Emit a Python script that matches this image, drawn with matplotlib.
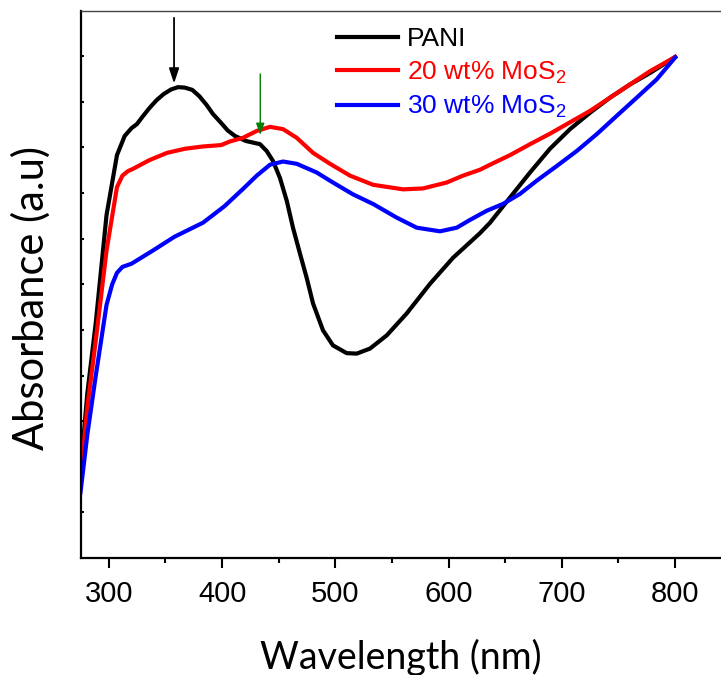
import matplotlib
matplotlib.use("Agg")
import matplotlib.pyplot as plt
import numpy as np

# UV-vis absorbance (a.u.)
wl_pani = [275, 281, 288.5, 298.0, 307.2, 314, 320.0, 324.8, 330, 335.8, 342, 348.5,
           355, 361.1, 367, 373.7, 380, 386.3, 392, 399.0, 405, 411.4, 421.1, 433.5,
           439.4, 445.0, 451.1, 457.1, 462.6, 468.8, 474.7, 480.3, 489.1, 497.9,
           510.0, 518.9, 530.6, 545.4, 563.0, 583.6, 603.9, 618.9, 627.7, 636.6,
           654.2, 671.9, 689.5, 707.2, 724.9, 742.5, 760.2, 777.8, 800]
abs_pani = [0.188, 0.36, 0.516, 0.752, 0.883, 0.925, 0.942, 0.951, 0.968, 0.986, 1.003,
            1.017, 1.027, 1.032, 1.031, 1.026, 1.012, 0.993, 0.973, 0.954, 0.937,
            0.925, 0.914, 0.907, 0.892, 0.870, 0.833, 0.783, 0.724, 0.667, 0.614,
            0.558, 0.499, 0.466, 0.449, 0.448, 0.459, 0.488, 0.536, 0.601, 0.658,
            0.692, 0.712, 0.735, 0.790, 0.845, 0.897, 0.940, 0.976, 1.009, 1.038,
            1.063, 1.098]

wl_20 = [275, 281, 288.5, 298.0, 307.2, 312, 316.9, 321.4, 335.8, 351.4, 367.3, 383.2,
         399.1, 407.0, 418.5, 430.6, 442.3, 453.8, 465.9, 480.3, 495.3, 513.0,
         533.3, 559.8, 577.4, 598.3, 612.7, 627.7, 636.6, 654.2, 671.9, 689.5,
         707.2, 724.9, 742.5, 760.2, 777.8, 800]
abs_20 = [0.171, 0.33, 0.477, 0.674, 0.813, 0.838, 0.848, 0.853, 0.872, 0.888, 0.897,
          0.902, 0.905, 0.913, 0.921, 0.936, 0.945, 0.940, 0.921, 0.888, 0.864,
          0.838, 0.818, 0.808, 0.810, 0.823, 0.838, 0.851, 0.862, 0.883, 0.907,
          0.930, 0.955, 0.980, 1.009, 1.038, 1.067, 1.098]

wl_30 = [275, 281, 288.5, 298.0, 303, 307.2, 312, 320.0, 339.0, 357.9, 383.2, 402.1,
         418.5, 430.6, 442.3, 453.8, 465.9, 483.5, 497.9, 515.6, 533.3, 554.2,
         571.8, 592.4, 607.2, 618.9, 633.6, 648.0, 663.0, 677.8, 695.4, 713.1,
         730.8, 748.4, 766.1, 783.7, 800]
abs_30 = [0.144, 0.27, 0.400, 0.555, 0.600, 0.625, 0.638, 0.645, 0.674, 0.704, 0.735,
          0.771, 0.809, 0.838, 0.862, 0.869, 0.864, 0.845, 0.823, 0.797, 0.776,
          0.746, 0.724, 0.716, 0.724, 0.741, 0.761, 0.776, 0.798, 0.827, 0.859,
          0.892, 0.929, 0.969, 1.009, 1.049, 1.097]

labels = ["PANI", "20 wt% MoS$_2$", "30 wt% MoS$_2$"]
colors = ["black", "red", "blue"]

plt.rcParams["font.family"] = ["Liberation Sans", "DejaVu Sans"]
plt.rcParams["mathtext.default"] = "regular"

fig = plt.figure(figsize=(7.21, 6.75), dpi=100)
ax = fig.add_axes([80.5 / 721, 117 / 675, 1 - 80.5 / 721, 547.5 / 675])

ax.plot(wl_pani, abs_pani, color=colors[0], lw=3, label=labels[0])
ax.plot(wl_20, abs_20, color=colors[1], lw=3, label=labels[1])
ax.plot(wl_30, abs_30, color=colors[2], lw=3, label=labels[2])

# peak markers
ax.annotate("", xy=(357.6, 1.034), xytext=(357.6, 1.19),
            arrowprops=dict(arrowstyle="-|>,head_length=0.9,head_width=0.3",
                            color="black", lw=1.3))
ax.annotate("", xy=(433.7, 0.921), xytext=(433.7, 1.067),
            arrowprops=dict(arrowstyle="-|>,head_length=0.7,head_width=0.25",
                            color="green", lw=1.0))

ax.set_xlim(275, 840.5)
ax.set_ylim(0, 1.2)
ax.set_xticks(np.arange(300, 801, 100))
ax.set_xticks(np.arange(350, 801, 100), minor=True)
ax.set_yticks(np.arange(0.1, 1.15, 0.1))
ax.set_yticklabels([])
ax.tick_params(axis="x", which="major", direction="out", length=7, width=1.5,
               labelsize=21, pad=9)
ax.tick_params(axis="x", which="minor", direction="out", length=3.5, width=1.5)
ax.tick_params(axis="y", direction="in", length=2, width=1.5)
for s in ["left", "bottom"]:
    ax.spines[s].set_linewidth(1.6)
ax.spines["top"].set_linewidth(1.0)
ax.spines["top"].set_color("#444444")
ax.spines["right"].set_visible(False)

ax.set_xlabel("Wavelength (nm)", fontsize=27, family="Lato", labelpad=22)
ax.set_ylabel("Absorbance (a.u)", fontsize=30, family="Lato")
ax.yaxis.set_label_coords(-0.047, 0.475)

leg = ax.legend(loc="upper left", bbox_to_anchor=(0.364, 1.013), frameon=False,
                fontsize=19, handlelength=2.3, handletextpad=0.35,
                labelspacing=0.32, labelcolor="linecolor")

fig.savefig("out.png", dpi=100)
